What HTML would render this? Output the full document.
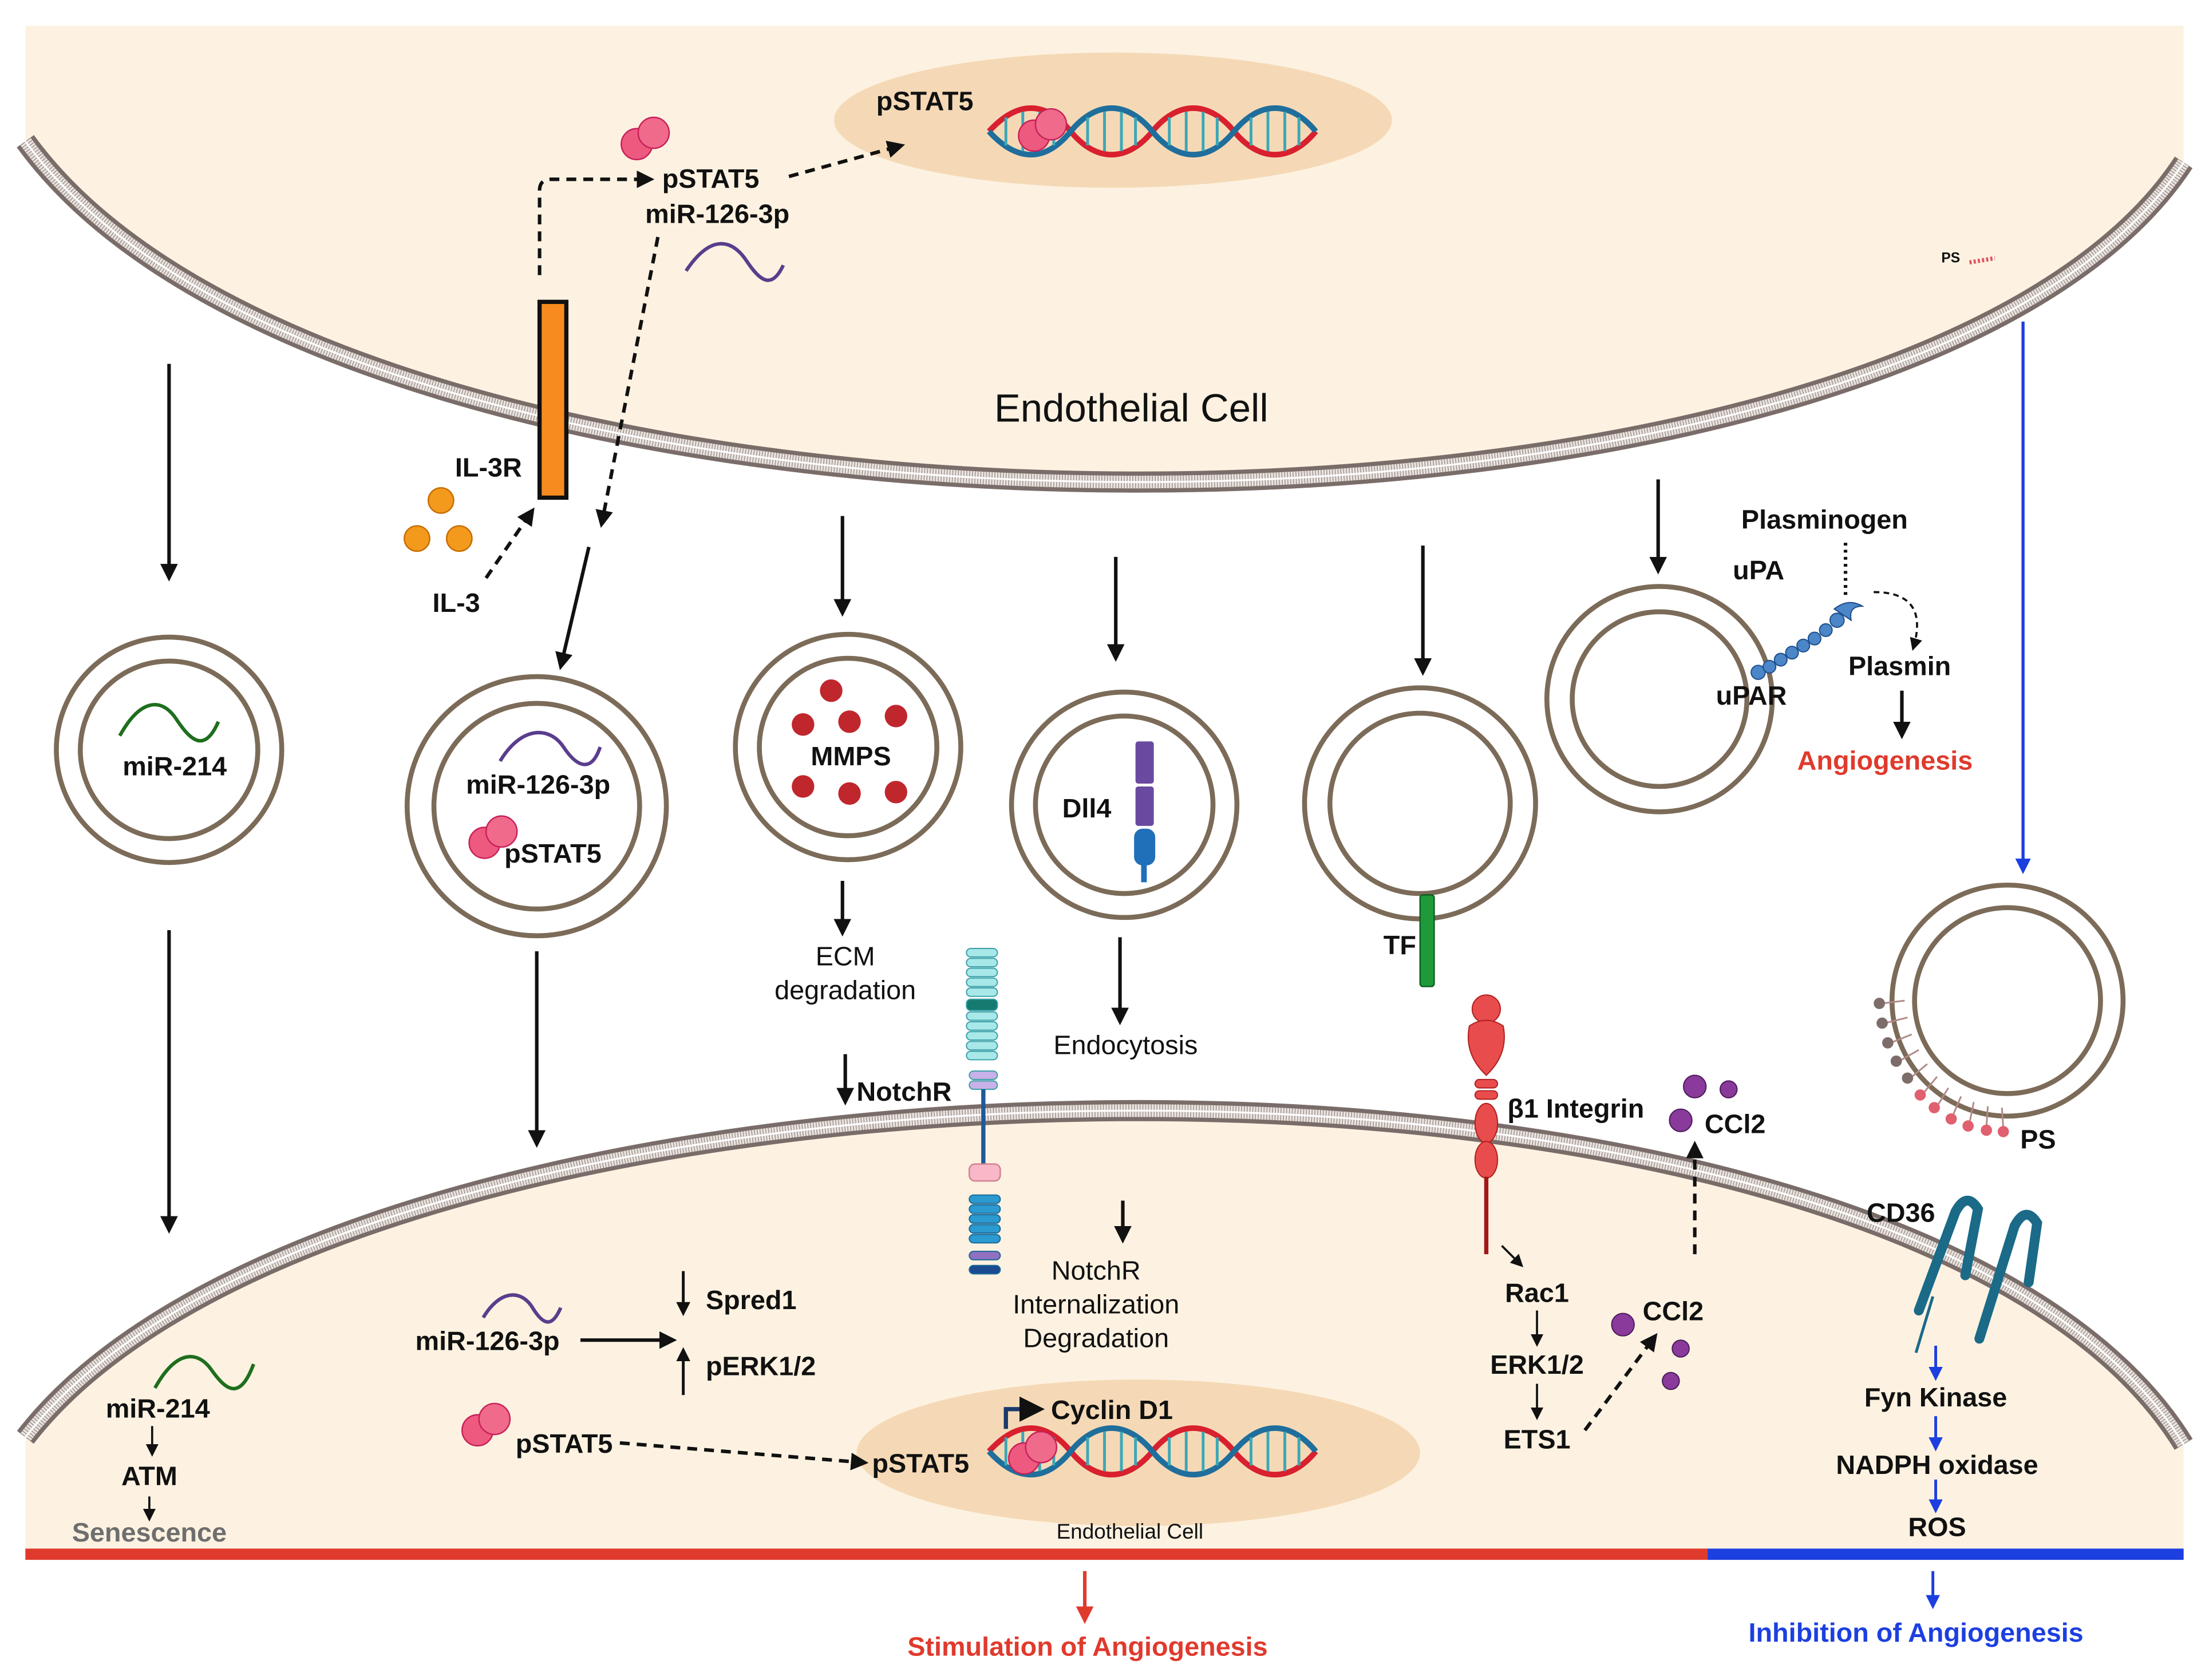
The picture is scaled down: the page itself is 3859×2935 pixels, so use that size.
<!DOCTYPE html>
<html><head><meta charset="utf-8"><style>
html,body{margin:0;padding:0;background:#fff}
svg{display:block}
text{font-family:"Liberation Sans",Arial,sans-serif;font-weight:bold;fill:#111}
</style></head><body>
<svg width="3859" height="2935" viewBox="0 0 1568 1192" xmlns="http://www.w3.org/2000/svg">
<defs>
<marker id="ah" viewBox="0 0 10 10" refX="8" refY="5" markerWidth="5" markerHeight="5" orient="auto"><path d="M0,0L10,5L0,10z" fill="#111"/></marker>
<marker id="ahs" viewBox="0 0 10 10" refX="8" refY="5" markerWidth="6" markerHeight="6" orient="auto"><path d="M0,0L10,5L0,10z" fill="#111"/></marker>
<marker id="ahb" viewBox="0 0 10 10" refX="8" refY="5" markerWidth="5" markerHeight="5" orient="auto"><path d="M0,0L10,5L0,10z" fill="#1c3fe0"/></marker>
<marker id="ahr" viewBox="0 0 10 10" refX="8" refY="5" markerWidth="5" markerHeight="5" orient="auto"><path d="M0,0L10,5L0,10z" fill="#e03a2d"/></marker>
<g id="dimer"><circle cx="-6" cy="4" r="11" fill="#ee5a7f" stroke="#c8205a" stroke-width="1"/><circle cx="6" cy="-4" r="11" fill="#f06a8c" stroke="#c8205a" stroke-width="1"/></g>
<g id="dna">
<path d="M0,0 C20,-22 40,-22 58,0 S98,22 116,0 S156,-22 174,0 S214,22 232,0" fill="none" stroke="#d8202e" stroke-width="4"/>
<path d="M0,0 C20,22 40,22 58,0 S98,-22 116,0 S156,22 174,0 S214,-22 232,0" fill="none" stroke="#1f6e9c" stroke-width="4"/>
<g stroke="#3aa8b8" stroke-width="2"><path d="M12,-10v20M24,-14v28M36,-14v28M46,-10v20M70,-10v20M82,-14v28M94,-14v28M104,-10v20M128,-10v20M140,-14v28M152,-14v28M162,-10v20M186,-10v20M198,-14v28M210,-14v28M220,-10v20"/></g>
</g>
</defs>

<path d="M18,18H1550V115C1350,420 250,420 18,100Z" fill="#fdf2e1"/>
<path d="M18,1020C250,720 1350,700 1550,1025V1100H18Z" fill="#fdf2e1"/>

<g fill="none">
<path d="M18,100C250,420 1350,420 1550,115" stroke="#7a6d69" stroke-width="15"/>
<path d="M18,100C250,420 1350,420 1550,115" stroke="#7a6d69" stroke-width="15" stroke-dasharray="2 1" opacity="0.5"/>
<path d="M18,100C250,420 1350,420 1550,115" stroke="#ece6e2" stroke-width="9"/>
<path d="M18,100C250,420 1350,420 1550,115" stroke="#a59a95" stroke-width="9" stroke-dasharray="0.7 1.3"/>
<path d="M18,100C250,420 1350,420 1550,115" stroke="#fff" stroke-width="1.3"/>
<path d="M18,1020C250,720 1350,700 1550,1025" stroke="#7a6d69" stroke-width="15"/>
<path d="M18,1020C250,720 1350,700 1550,1025" stroke="#ece6e2" stroke-width="9"/>
<path d="M18,1020C250,720 1350,700 1550,1025" stroke="#a59a95" stroke-width="9" stroke-dasharray="0.7 1.3"/>
<path d="M18,1020C250,720 1350,700 1550,1025" stroke="#fff" stroke-width="1.3"/>
</g>

<ellipse cx="790" cy="85" rx="198" ry="48" fill="#f5d9b6"/>
<text x="622" y="78" font-size="19">pSTAT5</text>
<use href="#dna" x="702" y="93"/>
<use href="#dimer" x="740" y="92"/>
<use href="#dimer" x="458" y="98"/>
<text x="470" y="133" font-size="19">pSTAT5</text>
<text x="458" y="158" font-size="19">miR-126-3p</text>
<path d="M487,192 C505,165 520,170 530,185 S548,205 556,188" fill="none" stroke="#5a3d8c" stroke-width="2.5"/>
<g fill="none" stroke="#111" stroke-width="2.5" stroke-dasharray="7 5">
<path d="M383,195V135Q383,127 391,127H462" marker-end="url(#ah)"/>
<path d="M560,125L640,103" marker-end="url(#ah)"/>
<path d="M467,168L427,372" marker-end="url(#ah)"/>
<path d="M345,410L378,362" marker-end="url(#ah)"/>
</g>
<rect x="383" y="214" width="19" height="139" fill="#f78b1f" stroke="#111" stroke-width="3"/>
<text x="323" y="338" font-size="19">IL-3R</text>
<circle cx="313" cy="355" r="9" fill="#f39a1d" stroke="#c76d00"/>
<circle cx="296" cy="382" r="9" fill="#f39a1d" stroke="#c76d00"/>
<circle cx="326" cy="382" r="9" fill="#f39a1d" stroke="#c76d00"/>
<text x="307" y="434" font-size="19">IL-3</text>
<text x="803" y="299" font-size="28" text-anchor="middle" style="font-weight:normal">Endothelial Cell</text>
<text x="1378" y="186" font-size="10">PS</text>
<path d="M1398,186l18,-3" stroke="#e05060" stroke-width="3" stroke-dasharray="1.5 1.5"/>
<path d="M1436,228V618" stroke="#1c3fe0" stroke-width="2.2" marker-end="url(#ahb)"/>

<g stroke="#111" stroke-width="2.5" fill="none" marker-end="url(#ah)">
<path d="M120,258V410"/><path d="M418,388L398,473"/><path d="M598,366V435"/><path d="M792,395V467"/><path d="M1010,387V477"/><path d="M1177,340V405"/>
<path d="M120,660V873"/><path d="M381,675V812"/><path d="M598,625V662"/><path d="M795,665V725"/>
<path d="M600,748V782"/><path d="M797,852V880"/>
<path d="M1350,490V522"/>
</g>

<g fill="none" stroke="#7b6b58" stroke-width="3.5">
<circle cx="120" cy="532" r="80"/><circle cx="120" cy="532" r="63"/>
<circle cx="381" cy="572" r="92"/><circle cx="381" cy="572" r="73"/>
<circle cx="602" cy="530" r="80"/><circle cx="602" cy="530" r="63"/>
<circle cx="798" cy="571" r="80"/><circle cx="798" cy="571" r="63"/>
<circle cx="1008" cy="570" r="82"/><circle cx="1008" cy="570" r="64"/>
<circle cx="1178" cy="496" r="80"/><circle cx="1178" cy="496" r="62"/>
<circle cx="1425" cy="710" r="82"/><circle cx="1425" cy="710" r="66"/>
</g>
<path d="M85,522 C100,495 115,495 125,510 S145,535 155,512" fill="none" stroke="#1e6e1e" stroke-width="2.5"/>
<text x="124" y="550" font-size="19" text-anchor="middle">miR-214</text>
<path d="M355,540 C370,515 390,515 400,530 S420,548 426,530" fill="none" stroke="#5a3d8c" stroke-width="2.5"/>
<text x="382" y="563" font-size="19" text-anchor="middle">miR-126-3p</text>
<use href="#dimer" x="350" y="594"/>
<text x="358" y="612" font-size="19">pSTAT5</text>
<g fill="#c0272d"><circle cx="590" cy="490" r="8"/><circle cx="570" cy="514" r="8"/><circle cx="603" cy="512" r="8"/><circle cx="636" cy="508" r="8"/><circle cx="570" cy="558" r="8"/><circle cx="603" cy="563" r="8"/><circle cx="636" cy="562" r="8"/></g>
<text x="604" y="543" font-size="19" text-anchor="middle">MMPS</text>
<text x="754" y="580" font-size="19">Dll4</text>
<rect x="806" y="526" width="13" height="30" rx="2" fill="#6a4aa0"/>
<rect x="806" y="558" width="13" height="28" rx="2" fill="#6a4aa0"/>
<rect x="805" y="588" width="15" height="26" rx="6" fill="#1f70b8"/>
<rect x="810" y="612" width="4" height="14" fill="#1f70b8"/>
<rect x="1008" y="635" width="10" height="65" rx="2" fill="#1f9a3a" stroke="#0c6020"/>
<text x="982" y="677" font-size="19">TF</text>
<text x="1230" y="411" font-size="19">uPA</text>
<text x="1236" y="375" font-size="19">Plasminogen</text>
<text x="1312" y="479" font-size="19">Plasmin</text>
<text x="1218" y="500" font-size="19">uPAR</text>
<path d="M1310,385V425" stroke="#111" stroke-width="2.5" stroke-dasharray="2 3"/>
<path d="M1330,420 Q1370,420 1358,460" fill="none" stroke="#111" stroke-width="1.5" stroke-dasharray="4 3" marker-end="url(#ahs)"/>
<g fill="#4a86c8" stroke="#1c4d8a" stroke-width="0.8">
<circle cx="1248" cy="477" r="5"/><circle cx="1256" cy="473" r="4.5"/><circle cx="1264" cy="468" r="4.5"/><circle cx="1272" cy="463" r="4.5"/><circle cx="1280" cy="458" r="4.5"/><circle cx="1288" cy="453" r="4.5"/><circle cx="1296" cy="447" r="4.5"/><circle cx="1304" cy="440" r="5"/>
<path d="M1302,432 q10,-8 20,-2 q-10,0 -8,10 z"/>
</g>
<text x="1338" y="546" font-size="19" text-anchor="middle" style="fill:#e03a2d">Angiogenesis</text>
<g stroke="#b08a86" stroke-width="1.2">
<path d="M1336,712l16,-2M1338,726l16,-4M1342,740l15,-6M1348,753l14,-8M1356,765l12,-10M1365,776l10,-12M1375,785l8,-13M1386,792l6,-14M1398,797l3,-15M1410,800l1,-15M1422,801l-1,-15"/>
</g>
<g fill="#7d6d6a"><circle cx="1334" cy="712" r="4"/><circle cx="1336" cy="726" r="4"/><circle cx="1340" cy="740" r="4"/><circle cx="1346" cy="753" r="4"/><circle cx="1354" cy="765" r="4"/></g>
<g fill="#e06070"><circle cx="1363" cy="777" r="4"/><circle cx="1373" cy="786" r="4"/><circle cx="1385" cy="794" r="4"/><circle cx="1397" cy="799" r="4"/><circle cx="1410" cy="802" r="4"/><circle cx="1422" cy="803" r="4"/></g>
<text x="1434" y="815" font-size="19">PS</text>

<text x="600" y="685" font-size="19" text-anchor="middle" style="font-weight:normal">ECM</text>
<text x="600" y="709" font-size="19" text-anchor="middle" style="font-weight:normal">degradation</text>
<text x="799" y="748" font-size="19" text-anchor="middle" style="font-weight:normal">Endocytosis</text>
<text x="608" y="781" font-size="19">NotchR</text>
<g stroke="#3aa0a8" stroke-width="0.8" fill="#a8e8e8">
<rect x="686" y="673" width="22" height="6" rx="3"/><rect x="686" y="680" width="22" height="6" rx="3"/><rect x="686" y="687" width="22" height="6" rx="3"/><rect x="686" y="694" width="22" height="6" rx="3"/><rect x="686" y="701" width="22" height="6" rx="3"/>
<rect x="686" y="709" width="22" height="8" rx="3" fill="#157a70"/>
<rect x="686" y="718" width="22" height="6" rx="3"/><rect x="686" y="725" width="22" height="6" rx="3"/><rect x="686" y="732" width="22" height="6" rx="3"/><rect x="686" y="739" width="22" height="6" rx="3"/><rect x="686" y="746" width="22" height="6" rx="3"/>
<rect x="688" y="760" width="20" height="6" rx="3" fill="#c8b0e8"/><rect x="688" y="767" width="20" height="6" rx="3" fill="#c8b0e8"/>
</g>
<path d="M698,773V830" stroke="#1e5a9a" stroke-width="3"/>
<rect x="688" y="826" width="22" height="12" rx="4" fill="#f8b8c8" stroke="#d08090"/>
<g fill="#2a9ad0" stroke="#1a6a98" stroke-width="0.8"><rect x="688" y="848" width="22" height="6" rx="3"/><rect x="688" y="855" width="22" height="6" rx="3"/><rect x="688" y="862" width="22" height="6" rx="3"/><rect x="688" y="869" width="22" height="6" rx="3"/><rect x="688" y="876" width="22" height="6" rx="3"/><rect x="688" y="888" width="22" height="6" rx="3" fill="#9070c0"/><rect x="688" y="898" width="22" height="6" rx="3" fill="#1a4a90"/></g>
<text x="778" y="908" font-size="19" text-anchor="middle" style="font-weight:normal">NotchR</text>
<text x="778" y="932" font-size="19" text-anchor="middle" style="font-weight:normal">Internalization</text>
<text x="778" y="956" font-size="19" text-anchor="middle" style="font-weight:normal">Degradation</text>
<g fill="#e84c4c" stroke="#b02020" stroke-width="0.8">
<circle cx="1055" cy="716" r="10"/><path d="M1043,728 q12,-8 24,0 q4,20 -12,35 q-16,-15 -12,-35z"/>
<rect x="1047" y="766" width="16" height="6" rx="3"/><rect x="1047" y="774" width="16" height="6" rx="3"/>
<ellipse cx="1055" cy="797" rx="8" ry="14"/><ellipse cx="1055" cy="823" rx="8" ry="13"/>
</g>
<path d="M1055,835V890" stroke="#a01818" stroke-width="3"/>
<text x="1070" y="793" font-size="19">β1 Integrin</text>
<g fill="#8a3a9a" stroke="#4a1a5a" stroke-width="0.8"><circle cx="1203" cy="771" r="8"/><circle cx="1227" cy="773" r="6"/><circle cx="1193" cy="795" r="8"/></g>
<text x="1210" y="804" font-size="19">CCl2</text>
<path d="M1203,890V812" stroke="#111" stroke-width="2.5" stroke-dasharray="7 5" marker-end="url(#ah)"/>
<path d="M1066,884L1080,898" stroke="#111" stroke-width="1.5" marker-end="url(#ahs)"/>
<text x="1091" y="924" font-size="19" text-anchor="middle">Rac1</text>
<text x="1091" y="975" font-size="19" text-anchor="middle">ERK1/2</text>
<text x="1091" y="1028" font-size="19" text-anchor="middle">ETS1</text>
<g stroke="#111" stroke-width="1.5" marker-end="url(#ahs)"><path d="M1091,930V954"/><path d="M1091,982V1006"/>
<path d="M108,1012V1032"/><path d="M106,1062V1078"/></g>
<path d="M1125,1015L1175,948" stroke="#111" stroke-width="2.5" stroke-dasharray="7 5" marker-end="url(#ah)"/>
<g fill="#8a3a9a" stroke="#4a1a5a" stroke-width="0.8"><circle cx="1152" cy="940" r="8"/><circle cx="1193" cy="957" r="6"/><circle cx="1186" cy="980" r="6"/></g>
<text x="1166" y="937" font-size="19">CCl2</text>
<text x="1325" y="867" font-size="19">CD36</text>
<g fill="none" stroke="#1a6a88" stroke-width="7" stroke-linecap="round">
<path d="M1362,930 L1388,860 Q1396,845 1404,858 L1395,905"/>
<path d="M1405,950 L1430,870 Q1438,855 1446,868 L1440,910"/>
</g>
<path d="M1360,960L1372,920" stroke="#1a6a88" stroke-width="2"/>
<text x="1374" y="998" font-size="19" text-anchor="middle">Fyn Kinase</text>
<text x="1375" y="1046" font-size="19" text-anchor="middle">NADPH oxidase</text>
<text x="1375" y="1090" font-size="19" text-anchor="middle">ROS</text>
<g stroke="#1c3fe0" stroke-width="2" marker-end="url(#ahb)"><path d="M1374,955V978"/><path d="M1374,1005V1028"/><path d="M1374,1050V1072"/><path d="M1372,1115V1140"/></g>

<path d="M110,985 C125,958 140,958 150,972 S170,995 180,968" fill="none" stroke="#1e6e1e" stroke-width="2.5"/>
<text x="112" y="1006" font-size="19" text-anchor="middle">miR-214</text>
<text x="106" y="1054" font-size="19" text-anchor="middle">ATM</text>
<text x="106" y="1094" font-size="19" text-anchor="middle" style="fill:#6e6e6e">Senescence</text>
<path d="M343,935 C355,915 370,915 378,928 S392,942 398,928" fill="none" stroke="#5a3d8c" stroke-width="2.5"/>
<text x="346" y="958" font-size="19" text-anchor="middle">miR-126-3p</text>
<path d="M412,951H478" stroke="#111" stroke-width="2.5" marker-end="url(#ah)"/>
<path d="M485,902V932" stroke="#111" stroke-width="2" marker-end="url(#ah)"/>
<path d="M485,990V958" stroke="#111" stroke-width="2" marker-end="url(#ah)"/>
<text x="501" y="929" font-size="19">Spred1</text>
<text x="501" y="976" font-size="19">pERK1/2</text>
<use href="#dimer" x="345" y="1011"/>
<text x="366" y="1031" font-size="19">pSTAT5</text>
<ellipse cx="808" cy="1031" rx="200" ry="52" fill="#f5d9b6"/>
<path d="M440,1024L614,1038" stroke="#111" stroke-width="2.5" stroke-dasharray="7 5" marker-end="url(#ah)"/>
<text x="619" y="1045" font-size="19">pSTAT5</text>
<use href="#dna" x="702" y="1030"/>
<use href="#dimer" x="733" y="1031"/>
<path d="M714,1014V1000H738" fill="none" stroke="#1a3a6a" stroke-width="3" marker-end="url(#ahs)"/>
<text x="746" y="1007" font-size="19">Cyclin D1</text>
<text x="802" y="1092" font-size="15" text-anchor="middle" style="font-weight:normal">Endothelial Cell</text>

<rect x="18" y="1099" width="1194" height="8" fill="#e03a2d"/>
<rect x="1212" y="1099" width="338" height="8" fill="#1c3fe0"/>
<path d="M770,1115V1150" stroke="#e03a2d" stroke-width="2.5" marker-end="url(#ahr)"/>
<text x="772" y="1175" font-size="19" text-anchor="middle" style="fill:#e03a2d">Stimulation of Angiogenesis</text>
<text x="1360" y="1165" font-size="19" text-anchor="middle" style="fill:#1c3fe0">Inhibition of Angiogenesis</text>
</svg>
</body></html>
